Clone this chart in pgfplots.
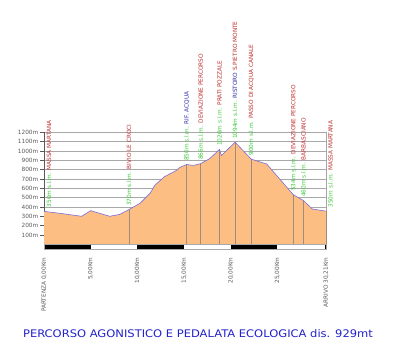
\documentclass[border=0pt]{standalone}
\usepackage{pgfplots}
\pgfplotsset{compat=1.18}
\usepackage{fontspec}
\setmainfont{DejaVu Sans}
\definecolor{peach}{RGB}{253,190,132}
\definecolor{curve}{RGB}{124,108,216}
\definecolor{gridgray}{RGB}{168,168,168}
\definecolor{axgray}{RGB}{90,90,90}
\definecolor{vline}{RGB}{160,140,120}
\definecolor{lgreen}{RGB}{60,200,60}
\definecolor{lred}{RGB}{192,48,48}
\definecolor{lblue}{RGB}{48,48,176}
\definecolor{tblue}{RGB}{34,34,204}
\newcommand\lf{\fontsize{5.8}{6}\selectfont}
\begin{document}
\begin{tikzpicture}
\path[use as bounding box, fill=white] (0,0) rectangle (400bp,363bp);
\begin{axis}[
  at={(44bp,118.7bp)}, anchor=south west,
  scale only axis, width=282bp, height=112bp,
  xmin=0, xmax=30.21, ymin=0, ymax=1200,
  clip=false,
  axis lines*=left,
  x axis line style={draw=none},
  y axis line style={draw=axgray, line width=0.6bp},
  /pgf/number format/assume math mode=true,
  ytick={100,200,...,1200},
  yticklabels={100m,200m,300m,400m,500m,600m,700m,800m,900m,1000m,1100m,1200m},
  ymajorgrids, grid style={gridgray, line width=0.5bp},
  tick align=outside, major tick length=4bp,
  ytick style={axgray, line width=0.5bp},
  yticklabel style={font=\lf, text=axgray, inner sep=1.5bp},
  xtick={0,5,10,15,20,25,30.21},
  xticklabels={{PARTENZA 0,00Km},{5,00Km},{10,00Km},{15,00Km},{20,00Km},{25,00Km},{ARRIVO 30,21Km}},
  xtick style={draw=none},
  xticklabel style={rotate=90, anchor=east, font=\lf, text=axgray, inner sep=0pt},
  xticklabel shift=9bp,
]
% profile fill
\addplot[fill=peach, draw=none] coordinates {
(0,353) (2,328) (4.03,300) (5.0,360) (7.05,300) (8.1,320) (9.1,372) (10.28,439) (10.6,470)
(11.36,546) (11.9,635) (12.9,724) (14.2,792) (14.57,825) (15.29,855) (16.0,845) (16.78,864)
(17.7,915) (18.1,950) (18.8,1016) (19.0,950) (20.47,1094) (22.2,912) (23.86,860)
(26.7,532) (27.8,468) (28.75,378) (30.21,355)} \closedcycle;
% waypoint lines
\addplot[ycomb, draw=vline, line width=0.6bp] coordinates {
(9.1,372) (15.29,855) (16.78,864) (18.8,1016) (20.47,1094) (22.2,912) (26.7,532) (27.8,468) (30.21,355)};
% right edge
\addplot[draw=gridgray, line width=0.5bp] coordinates {(30.21,355) (30.21,1200)};
% profile line
\addplot[draw=curve, line width=0.6bp] coordinates {
(0,353) (2,328) (4.03,300) (5.0,360) (7.05,300) (8.1,320) (9.1,372) (10.28,439) (10.6,470)
(11.36,546) (11.9,635) (12.9,724) (14.2,792) (14.57,825) (15.29,855) (16.0,845) (16.78,864)
(17.7,915) (18.1,950) (18.8,1016) (19.0,950) (20.47,1094) (22.2,912) (23.86,860)
(26.7,532) (27.8,468) (28.75,378) (30.21,355)};
% scale bar
\addplot[fill=black, draw=none] coordinates {(0,0) (5,0) (5,-54) (0,-54)};
\addplot[fill=black, draw=none] coordinates {(10,0) (15,0) (15,-54) (10,-54)};
\addplot[fill=black, draw=none] coordinates {(20,0) (25,0) (25,-54) (20,-54)};
\addplot[fill=black, draw=none] coordinates {(30.05,0) (30.21,0) (30.21,-54) (30.05,-54)};
\addplot[draw=gridgray, line width=0.5bp] coordinates {(0,0) (30.21,0) (30.21,-54) (0,-54) (0,0)};
% labels
\begin{scope}[every node/.style={rotate=90, anchor=west, inner sep=0pt, font=\lf}]
\node at ([xshift=5bp,yshift=4bp]axis cs:0,353) {\textcolor{lgreen}{350m s.l.m.} \textcolor{lred}{MASSA MARTANA}};
\node at ([yshift=3.5bp]axis cs:9.1,372) {\textcolor{lgreen}{370m s.l.m.} \textcolor{lred}{BIVIO LE CROCI}};
\node at ([yshift=3.5bp]axis cs:15.29,855) {\textcolor{lgreen}{850m s.l.m.} \textcolor{lblue}{RIF. ACQUA}};
\node at ([yshift=3.5bp]axis cs:16.78,864) {\textcolor{lgreen}{866m s.l.m.} \textcolor{lred}{DEVIAZIONE PERCORSO}};
\node at ([yshift=3.5bp]axis cs:18.8,1016) {\textcolor{lgreen}{1020m s.l.m.} \textcolor{lred}{PRATI POZZALE}};
\node at ([yshift=3bp]axis cs:20.47,1094) {\textcolor{lgreen}{1094m s.l.m.} \textcolor{lblue}{RISTORO} \textcolor{lred}{S.PIETRO MONTE}};
\node at ([yshift=3.5bp]axis cs:22.2,912) {\textcolor{lgreen}{900m s.l.m.} \textcolor{lred}{PASSO DI ACQUA CANALE}};
\node at ([yshift=3.5bp]axis cs:26.7,532) {\textcolor{lgreen}{534m s.l.m.} \textcolor{lred}{DEVIAZIONE PERCORSO}};
\node at ([yshift=3.5bp]axis cs:27.8,468) {\textcolor{lgreen}{460m s.l.m.} \textcolor{lred}{BARBASCIANO}};
\node at ([xshift=4.5bp,yshift=3.5bp]axis cs:30.21,355) {\textcolor{lgreen}{350m s.l.m.} \textcolor{lred}{MASSA MARTANA}};
\end{scope}
\end{axis}
\node[text=tblue, font=\fontsize{10.5}{12}\selectfont] at (198bp,29bp) {\scalebox{1.1}[1]{PERCORSO AGONISTICO E PEDALATA ECOLOGICA dis. 929mt}};
\end{tikzpicture}
\end{document}
